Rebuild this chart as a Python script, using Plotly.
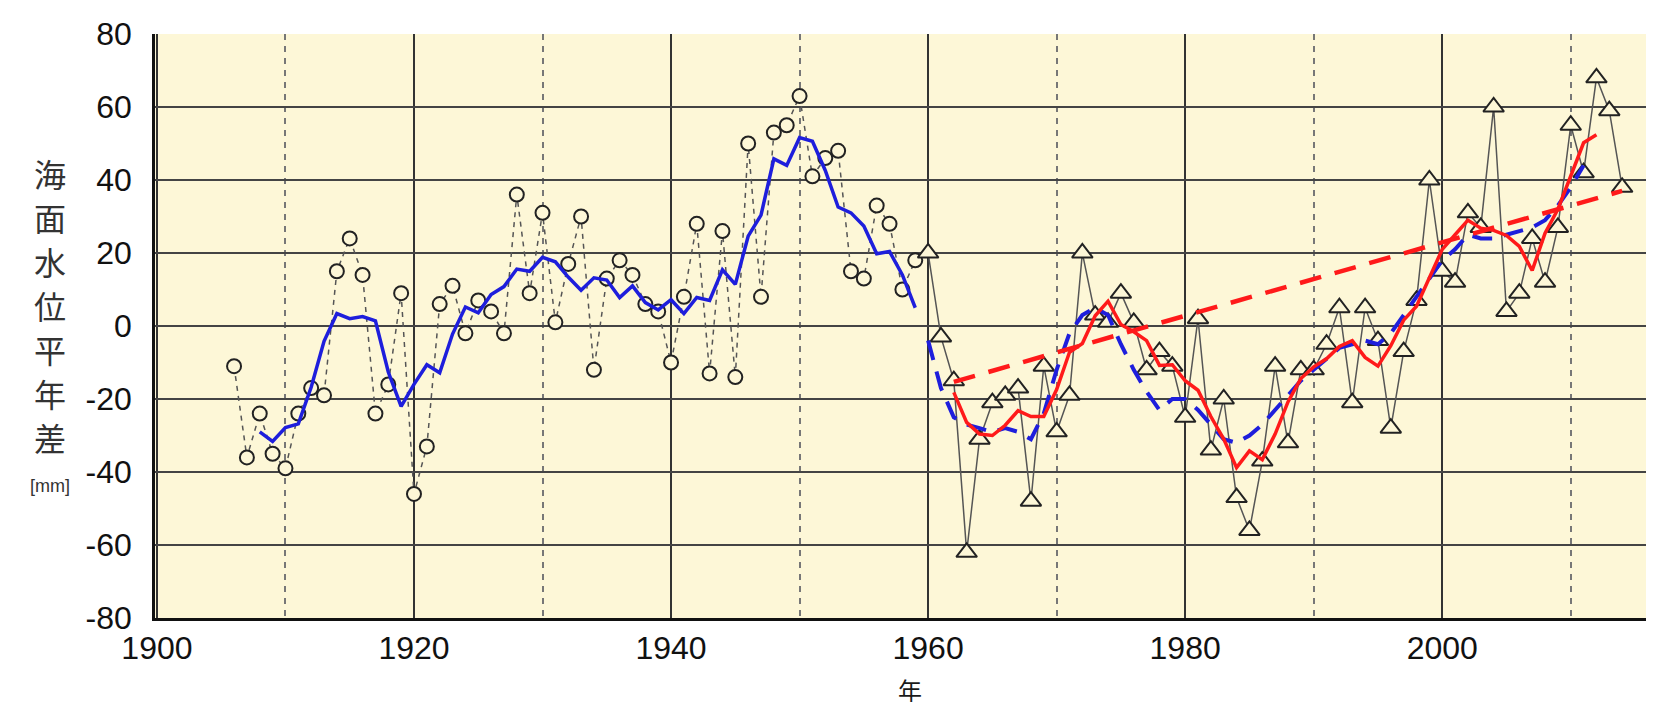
import plotly.graph_objects as go

# ---- data: station record 1906-1959 (circles) ----
years_a = list(range(1906, 1960))
sea_a = [-11, -36, -24, -35, -39, -24, -17, -19, 15, 24,
         14, -24, -16, 9, -46, -33, 6, 11, -2, 7,
         4, -2, 36, 9, 31, 1, 17, 30, -12, 13,
         18, 14, 6, 4, -10, 8, 28, -13, 26, -14,
         50, 8, 53, 55, 63, 41, 46, 48, 15, 13,
         33, 28, 10, 18]

# 5-year running mean of the early record (blue solid)
ma_years_a = list(range(1908, 1960))
ma_a = [-29, -31.6, -27.8, -26.8, -16.8, -4.2, 3.4, 2, 2.6, 1.4,
        -12.6, -22, -16, -10.6, -12.8, -2.2, 5.2, 3.6, 8.6, 10.8,
        15.6, 15, 18.8, 17.6, 13.4, 9.8, 13.2, 12.6, 7.8, 11,
        6.4, 4.4, 7.2, 3.4, 7.8, 7, 15.4, 11.4, 24.6, 30.4,
        45.8, 44, 51.6, 50.6, 42.6, 32.6, 31, 27.4, 19.8, 20.4,
        14, 5]

# ---- data: record 1960-2014 (triangles) ----
years_b = list(range(1960, 2015))
sea_b = [20, -3, -15, -62, -31, -21, -19, -17, -48, -11,
         -29, -19, 20, 3, 1, 9, 1, -12, -7, -11,
         -25, 2, -34, -20, -47, -56, -37, -11, -32, -12,
         -12, -5, 5, -21, 5, -4, -28, -7, 7, 40,
         15, 12, 31, 27, 60, 4, 9, 24, 12, 27,
         55, 42, 68, 59, 38]

# 5-year running mean of the later record (red solid)
ma_years_b = list(range(1962, 2013))
ma_b = [-18.2, -26.4, -29.6, -30, -27.2, -23.2, -24.8, -24.8, -17.4, -7.2,
        -4.8, 2.8, 6.8, 0.4, -1.6, -4, -10.8, -10.6, -15, -17.6,
        -24.8, -31, -38.8, -34.2, -36.6, -29.6, -20.8, -14.4, -11.2, -9,
        -5.6, -4, -8.6, -11, -5.4, 1.6, 5.4, 13.4, 21, 25,
        29, 26.8, 26.2, 24.8, 21.8, 15.2, 25.4, 32, 40.8, 50.2,
        52.4]

# blue dashed series
years_c = list(range(1960, 2012))
sea_c = [-4, -17, -25, -27, -28, -29, -28, -29, -31, -24,
         -12, -2, 3, 5, 3, -5, -12, -18, -23, -20,
         -20, -23, -27, -31, -32, -30, -27, -23, -19, -15,
         -12, -9, -6, -5, -4, -5, -2, 3, 8, 13,
         18, 21, 25, 24, 24, 25, 26, 27, 29, 33,
         38, 44]

# linear trend (red dashed)
trend_years = [1962, 2014]
trend_vals = [-15.3, 37]

x_ticks = [1900, 1920, 1940, 1960, 1980, 2000]
y_ticks = [-80, -60, -40, -20, 0, 20, 40, 60, 80]
ytitle_chars = ["海", "面", "水", "位", "平", "年", "差"]

BG = "#FDF7D7"
fig = go.Figure()

fig.add_trace(go.Scatter(
    x=years_a, y=sea_a, mode="lines+markers",
    line=dict(color="#555555", width=1.5, dash="5px,5px"),
    marker=dict(symbol="circle", size=14, color=BG,
                line=dict(color="#222222", width=2))))

fig.add_trace(go.Scatter(
    x=years_b, y=sea_b, mode="lines+markers",
    line=dict(color="#555555", width=1.5),
    marker=dict(symbol="triangle-up", size=18, color=BG,
                line=dict(color="#222222", width=2))))

fig.add_trace(go.Scatter(
    x=ma_years_a, y=ma_a, mode="lines",
    line=dict(color="#1E1EDC", width=3.5)))

fig.add_trace(go.Scatter(
    x=years_c, y=sea_c, mode="lines",
    line=dict(color="#1E1EDC", width=4, dash="20px,12px")))

fig.add_trace(go.Scatter(
    x=ma_years_b, y=ma_b, mode="lines",
    line=dict(color="#FF1A1A", width=3.5)))

fig.add_trace(go.Scatter(
    x=trend_years, y=trend_vals, mode="lines",
    line=dict(color="#FF1A1A", width=4.5, dash="22px,14px")))

fig.update_layout(
    width=1654, height=702,
    margin=dict(l=147, r=0, t=26, b=92),
    plot_bgcolor=BG, paper_bgcolor="white",
    showlegend=False,
    font=dict(family="Liberation Sans, Arial, sans-serif", size=32, color="#111111"),
)

fig.update_xaxes(
    range=[1899.85, 2017.1],
    tickvals=x_ticks, ticktext=[str(v) for v in x_ticks],
    showgrid=True, gridcolor="#333333", gridwidth=1.5,
    showline=True, linecolor="#111111", linewidth=2.5,
    ticks="", ticklabelstandoff=0, zeroline=False,
    minor=dict(tickvals=[1910, 1930, 1950, 1970, 1990, 2010],
               showgrid=True, gridcolor="#777777", griddash="6px,6px", gridwidth=1.5),
)
fig.update_yaxes(
    range=[-80, 80],
    tickvals=y_ticks, ticktext=[str(v) for v in y_ticks],
    showgrid=True, gridcolor="#444444", gridwidth=2,
    showline=True, linecolor="#111111", linewidth=2.5,
    ticks="", ticklabelstandoff=14, zeroline=False,
)

# vertical y-axis title, one character per line
PLOT_TOP, PLOT_BOTTOM, PLOT_LEFT, PLOT_W = 26, 610, 147, 1507
for i, ch in enumerate(ytitle_chars):
    ypix = 165 + i * 44
    fig.add_annotation(
        text=ch, xref="paper", yref="paper",
        x=(42 - PLOT_LEFT) / PLOT_W, y=(PLOT_BOTTOM - ypix) / (PLOT_BOTTOM - PLOT_TOP),
        xanchor="center", yanchor="middle", showarrow=False,
        font=dict(family="Noto Sans CJK JP", size=32, color="#333333"))
fig.add_annotation(
    text="[mm]",
    xref="paper", yref="paper", x=(42 - PLOT_LEFT) / PLOT_W,
    y=(PLOT_BOTTOM - 478) / (PLOT_BOTTOM - PLOT_TOP),
    xanchor="center", yanchor="middle", showarrow=False,
    font=dict(family="Liberation Sans", size=18, color="#333333"))
fig.add_annotation(
    text="年",
    xref="paper", yref="paper", x=(902 - PLOT_LEFT) / PLOT_W,
    y=(PLOT_BOTTOM - 700) / (PLOT_BOTTOM - PLOT_TOP),
    xanchor="center", yanchor="bottom", showarrow=False, borderpad=0,
    font=dict(family="Noto Sans CJK JP", size=24, color="#1a1a1a"))

fig.write_html("out.html")
